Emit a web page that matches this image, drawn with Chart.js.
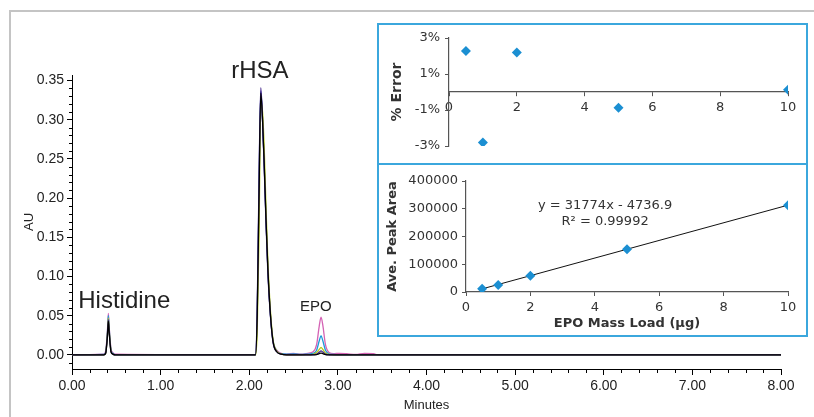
<!DOCTYPE html>
<html><head><meta charset="utf-8">
<script src="https://cdn.jsdelivr.net/npm/chart.js@4/dist/chart.umd.min.js"></script>
<style>
html,body{margin:0;padding:0;background:#fff;width:814px;height:417px;overflow:hidden}
#frame{position:absolute;left:9px;top:10px;width:830px;height:430px;border-left:2px solid #c4c4c4;border-top:2px solid #c4c4c4;box-sizing:border-box}
#main{position:absolute;left:0;top:0;display:block}
.inset{position:absolute;left:377px;width:431px;background:#fff;border:2px solid #3ba7dd;box-sizing:border-box}
.inset canvas{display:block}
#box1{top:23px;height:142px}
#box2{top:163px;height:174px}
</style></head>
<body>
<div id="frame"></div>
<canvas id="main" width="814" height="417"></canvas>
<div class="inset" id="box1"><canvas id="err" width="427" height="138"></canvas></div>
<div class="inset" id="box2"><canvas id="cal" width="427" height="170"></canvas></div>
<script>
// ---------- Chromatogram data (minutes, AU) ----------
const time = [0, 0.36, 0.38, 0.40, 0.41, 0.42, 0.44, 0.46, 0.49,
  2.07, 2.09, 2.11, 2.13, 2.15, 2.17, 2.19, 2.21, 2.24, 2.27, 2.31, 2.36, 2.42,
  2.50, 2.58, 2.66, 2.72, 2.76, 2.79, 2.81, 2.83, 2.86, 2.90,
  2.95, 3.02, 3.10, 3.20, 3.30, 3.40, 3.46, 8.00];
const au_05ug = [0, 0, 0.002, 0.024, 0.043, 0.028, 0.004, 0.001, 0,
  0, 0.05, 0.20, 0.334, 0.30, 0.24, 0.17, 0.11, 0.05, 0.016, 0.004, 0.001, 0,
  0, 0, 0, 0, 0.0004, 0.0016, 0.0022, 0.0016, 0.0004, 0,
  0, 0, 0, 0, 0, 0, 0, 0];
const au_1ug = [0, 0, 0.002, 0.026, 0.045, 0.029, 0.004, 0.001, 0,
  0, 0.06, 0.22, 0.341, 0.30, 0.235, 0.165, 0.105, 0.048, 0.015, 0.004, 0.001, 0,
  0, 0, 0, 0.0003, 0.001, 0.0035, 0.005, 0.0036, 0.001, 0.0002,
  0, 0, 0, 0, 0, 0, 0, 0];
const au_2ug = [0, 0, 0.002, 0.027, 0.047, 0.031, 0.005, 0.001, 0,
  0, 0.03, 0.15, 0.32, 0.31, 0.26, 0.185, 0.12, 0.055, 0.018, 0.005, 0.0012, 0,
  0, 0, 0.0003, 0.0008, 0.003, 0.007, 0.0097, 0.007, 0.0025, 0.0005,
  0, 0, 0, 0, 0, 0, 0, 0];
const au_5ug = [0, 0.0005, 0.003, 0.029, 0.050, 0.033, 0.006, 0.002, 0,
  0, 0.05, 0.21, 0.336, 0.30, 0.24, 0.17, 0.11, 0.05, 0.017, 0.005, 0.0015, 0.001,
  0.0012, 0.0005, 0.001, 0.0018, 0.006, 0.018, 0.0245, 0.018, 0.006, 0.0015,
  0.0005, 0, 0, 0, 0, 0, 0, 0];
const au_10ug = [0, 0.001, 0.005, 0.031, 0.053, 0.035, 0.008, 0.003, 0.001,
  0, 0.05, 0.21, 0.336, 0.30, 0.24, 0.17, 0.11, 0.05, 0.017, 0.006, 0.002, 0.001,
  0.002, 0.0008, 0.002, 0.004, 0.013, 0.037, 0.048, 0.038, 0.013, 0.003,
  0.0015, 0.002, 0.0015, 0.0005, 0.002, 0.0015, 0, 0];
const xTickValues = [0, 1, 2, 3, 4, 5, 6, 7, 8];
const yTickValues = [0, 0.05, 0.10, 0.15, 0.20, 0.25, 0.30, 0.35];

// ---------- Inset data ----------
const massLoad = [0.5, 1, 2, 5, 10];
const pctError = [2.28, -2.81, 2.19, -0.87, 0.13];
const peakArea = [11600, 25600, 58500, 154000, 312500];
const fitX = [0.5, 10];
const fitY = [11150, 313003];
const errYTicks = [3, 1, -1, -3];
const insetXTicks = [0, 2, 4, 6, 8, 10];
const calYTicks = [0, 100000, 200000, 300000, 400000];

const FONT = '"Liberation Sans", Arial, sans-serif';
const IFONT = '"DejaVu Sans", Verdana, sans-serif';
Chart.defaults.font.family = FONT;

const pts = vals => time.map((t, i) => ({x: t, y: vals[i]}));
const setTicks = arr => (s => { s.ticks = arr.map(v => ({value: v})); });

const mainDecor = {
  id: 'mainDecor',
  afterDraw(chart) {
    const {ctx} = chart; const xs = chart.scales.x, ys = chart.scales.y;
    ctx.save();
    ctx.strokeStyle = '#000'; ctx.lineWidth = 1; ctx.beginPath();
    for (let i = -1; i <= 35; i++) {
      if (i % 5 === 0) continue;
      const py = Math.round(ys.getPixelForValue(i / 100)) + 0.5;
      ctx.moveTo(ys.right - 3, py); ctx.lineTo(ys.right, py);
    }
    for (let i = 1; i < 40; i++) {
      if (i % 5 === 0) continue;
      const px = Math.round(xs.getPixelForValue(i / 5)) + 0.5;
      ctx.moveTo(px, xs.top); ctx.lineTo(px, xs.top + 4);
    }
    ctx.stroke();
    ctx.fillStyle = '#222'; ctx.textAlign = 'center'; ctx.textBaseline = 'alphabetic';
    ctx.font = '24px ' + FONT;
    ctx.fillText('rHSA', xs.getPixelForValue(2.12), ys.getPixelForValue(0.353));
    ctx.fillText('Histidine', xs.getPixelForValue(0.59), ys.getPixelForValue(0.060));
    ctx.font = '15px ' + FONT;
    ctx.fillText('EPO', xs.getPixelForValue(2.75), ys.getPixelForValue(0.0565));
    ctx.restore();
  }
};

const series = [
  {v: au_05ug, c: '#000000'},
  {v: au_1ug, c: '#4a2c8f'},
  {v: au_2ug, c: '#b8cc1c'},
  {v: au_5ug, c: '#1e9ad8'},
  {v: au_10ug, c: '#d462b4'}
];

new Chart(document.getElementById('main'), {
  type: 'line',
  data: {datasets: series.map(s => ({data: pts(s.v), borderColor: s.c, borderWidth: 1.3, pointRadius: 0, fill: false}))},
  options: {
    responsive: false, animation: false, devicePixelRatio: 1,
    layout: {padding: {left: 18, top: 75, right: 33, bottom: 0}},
    plugins: {legend: {display: false}, tooltip: {enabled: false}},
    elements: {line: {cubicInterpolationMode: 'monotone'}},
    scales: {
      x: {type: 'linear', min: 0, max: 8, afterBuildTicks: setTicks(xTickValues),
        ticks: {callback: v => v.toFixed(2), font: {size: 14}, color: '#222', padding: 3, maxRotation: 0},
        grid: {drawOnChartArea: false, drawTicks: true, tickLength: 6, color: '#000'},
        border: {color: '#000', width: 1},
        title: {display: true, text: 'Minutes', font: {size: 13}, color: '#222', padding: {top: 0, bottom: 4}},
        afterFit: s => { s.height = 48; }},
      y: {type: 'linear', min: -0.018, max: 0.357, afterBuildTicks: setTicks(yTickValues),
        ticks: {callback: v => v.toFixed(2), font: {size: 14}, color: '#222', padding: 3},
        grid: {drawOnChartArea: false, drawTicks: true, tickLength: 5, color: '#000'},
        border: {color: '#000', width: 1},
        title: {display: true, text: 'AU', font: {size: 13}, color: '#222', padding: {top: 4, bottom: 0}},
        afterFit: s => { s.width = 54; }}
    }
  },
  plugins: [mainDecor]
});

// ---------- Inset 1: % Error ----------
new Chart(document.getElementById('err'), {
  type: 'scatter',
  data: {datasets: [{data: massLoad.map((m, i) => ({x: m, y: pctError[i]})),
    pointStyle: 'rectRot', pointRadius: 5, backgroundColor: '#1b8fd2', borderWidth: 0}]},
  options: {
    responsive: false, animation: false, devicePixelRatio: 1,
    layout: {padding: {left: 6, top: 13, right: 18, bottom: 17}},
    plugins: {legend: {display: false}, tooltip: {enabled: false}},
    scales: {
      x: {type: 'linear', min: 0, max: 10, position: {y: 0}, afterBuildTicks: setTicks(insetXTicks),
        ticks: {font: {family: IFONT, size: 13}, color: '#333', padding: 4, maxRotation: 0},
        grid: {drawOnChartArea: false, tickLength: 4, color: '#555'},
        border: {color: '#555', width: 1.2}},
      y: {type: 'linear', min: -3, max: 3, afterBuildTicks: setTicks(errYTicks),
        ticks: {callback: v => v + '%', font: {family: IFONT, size: 13}, color: '#333', padding: 5},
        grid: {drawOnChartArea: false, tickLength: 4, color: '#555'},
        border: {color: '#555', width: 1.2},
        title: {display: true, text: '% Error', font: {family: IFONT, size: 14, weight: 'bold'}, color: '#333', padding: {top: 4, bottom: 0}},
        afterFit: s => { s.width = 64; }}
    }
  }
});

// ---------- Inset 2: calibration ----------
const calText = {
  id: 'calText',
  afterDraw(chart) {
    const {ctx} = chart; const xs = chart.scales.x, ys = chart.scales.y;
    ctx.save();
    ctx.fillStyle = '#333'; ctx.font = '13px ' + IFONT; ctx.textAlign = 'center'; ctx.textBaseline = 'middle';
    ctx.fillText('y = 31774x - 4736.9', xs.getPixelForValue(4.32), ys.getPixelForValue(310000));
    ctx.fillText('R\u00B2 = 0.99992', xs.getPixelForValue(4.32), ys.getPixelForValue(253000));
    ctx.restore();
  }
};
new Chart(document.getElementById('cal'), {
  type: 'scatter',
  data: {datasets: [
    {data: massLoad.map((m, i) => ({x: m, y: peakArea[i]})), pointStyle: 'rectRot', pointRadius: 5, backgroundColor: '#1b8fd2', borderWidth: 0},
    {data: fitX.map((m, i) => ({x: m, y: fitY[i]})), showLine: true, borderColor: '#111', borderWidth: 1, pointRadius: 0}
  ]},
  options: {
    responsive: false, animation: false, devicePixelRatio: 1,
    layout: {padding: {left: 2, top: 16, right: 18, bottom: 0}},
    plugins: {legend: {display: false}, tooltip: {enabled: false}},
    scales: {
      x: {type: 'linear', min: 0, max: 10, afterBuildTicks: setTicks(insetXTicks),
        ticks: {font: {family: IFONT, size: 13}, color: '#333', padding: 4, maxRotation: 0},
        grid: {drawOnChartArea: false, tickLength: 4, color: '#555'},
        border: {color: '#555', width: 1.2},
        title: {display: true, text: 'EPO Mass Load (\u00B5g)', font: {family: IFONT, size: 13, weight: 'bold'}, color: '#333', padding: {top: 0, bottom: 4}},
        afterFit: s => { s.height = 43; }},
      y: {type: 'linear', min: 0, max: 400000, afterBuildTicks: setTicks(calYTicks),
        ticks: {font: {family: IFONT, size: 13}, color: '#333', padding: 4, callback: v => String(v)},
        grid: {drawOnChartArea: false, tickLength: 4, color: '#555'},
        border: {color: '#555', width: 1.2},
        title: {display: true, text: 'Ave. Peak Area', font: {family: IFONT, size: 13, weight: 'bold'}, color: '#333', padding: {top: 4, bottom: 0}},
        afterFit: s => { s.width = 85; }}
    }
  },
  plugins: [calText]
});
</script>
</body></html>
